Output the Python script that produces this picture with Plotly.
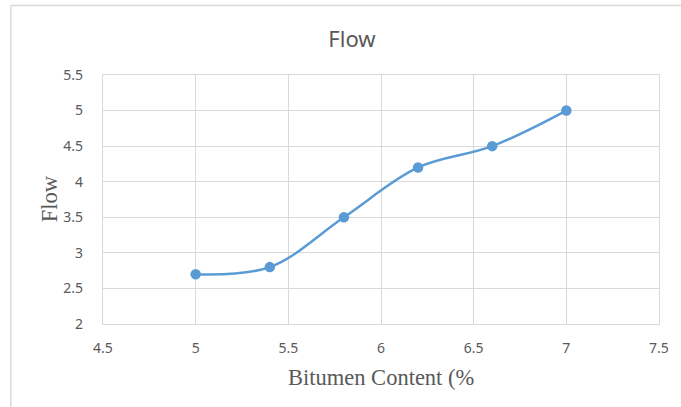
import plotly.graph_objects as go

# Bitumen content (%) vs flow values
bitumen_content = [5.0, 5.4, 5.8, 6.2, 6.6, 7.0]
flow = [2.7, 2.8, 3.5, 4.2, 4.5, 5.0]

x_ticks = [4.5, 5, 5.5, 6, 6.5, 7, 7.5]
y_ticks = [2, 2.5, 3, 3.5, 4, 4.5, 5, 5.5]

W, H = 681, 407
L, R, T, B = 103, 20, 75, 83
plot_w = W - L - R
plot_h = H - T - B

grid = "#d9d9d9"
text_gray = "#595959"
blue = "#5b9bd5"

fig = go.Figure()
fig.add_trace(go.Scatter(
    x=bitumen_content, y=flow,
    mode="lines+markers",
    line=dict(color=blue, width=2.5, shape="spline", smoothing=1.0),
    marker=dict(color=blue, size=10.5),
    showlegend=False,
))

def px_to_paper_x(px):
    return (px - L) / plot_w

def px_to_paper_y(py):
    return (H - B - py) / plot_h

tick_font = dict(family="Noto Sans", size=14, color=text_gray)

fig.update_layout(
    width=W, height=H,
    margin=dict(l=L, r=R, t=T, b=B),
    paper_bgcolor="white",
    plot_bgcolor="white",
    title=dict(text="Flow", x=352 / W, xref="container", xanchor="center",
               y=1 - 39 / H, yref="container", yanchor="middle",
               font=dict(family="Noto Sans", size=22, color=text_gray)),
    xaxis=dict(range=[4.5, 7.5], tickvals=x_ticks, ticktext=[f"{v:g}" for v in x_ticks],
               showgrid=True, gridcolor=grid, gridwidth=1.3,
               showline=True, linecolor=grid, linewidth=1.3, mirror=True,
               zeroline=False, ticks="", ticklabelstandoff=11,
               tickfont=tick_font),
    yaxis=dict(range=[2, 5.5], tickvals=y_ticks, ticktext=[f"{v:g}" for v in y_ticks],
               showgrid=True, gridcolor=grid, gridwidth=1.3,
               showline=True, linecolor=grid, linewidth=1.3, mirror=True,
               zeroline=False, ticks="", ticklabelstandoff=16,
               tickfont=tick_font),
    annotations=[
        dict(text="Bitumen Content (%", xref="paper", yref="paper",
             x=px_to_paper_x(382), y=px_to_paper_y(377),
             xanchor="center", yanchor="middle", showarrow=False,
             font=dict(family="Liberation Serif", size=22.5, color=text_gray)),
        dict(text="Flow", xref="paper", yref="paper",
             x=px_to_paper_x(49), y=px_to_paper_y(199), textangle=-90,
             xanchor="center", yanchor="middle", showarrow=False,
             font=dict(family="Liberation Serif", size=22.5, color=text_gray)),
    ],
    shapes=[
        # chart frame (left and top edges fall inside the page)
        dict(type="line", xref="paper", yref="paper",
             x0=px_to_paper_x(10.5), x1=px_to_paper_x(10.5),
             y0=px_to_paper_y(H + 5), y1=px_to_paper_y(5.5),
             line=dict(color=grid, width=1.5), layer="below"),
        dict(type="line", xref="paper", yref="paper",
             x0=px_to_paper_x(10.5), x1=px_to_paper_x(W + 5),
             y0=px_to_paper_y(5.5), y1=px_to_paper_y(5.5),
             line=dict(color=grid, width=1.5), layer="below"),
    ],
)

fig.write_html("out.html", config={"displayModeBar": False})
